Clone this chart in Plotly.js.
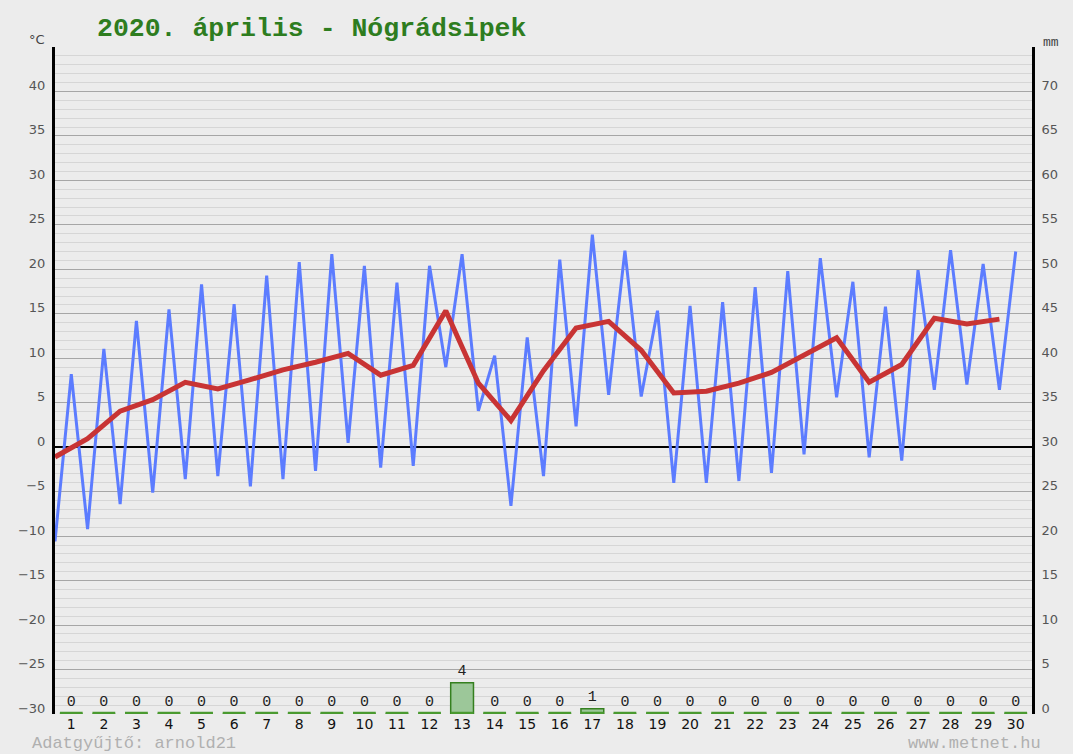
<!DOCTYPE html>
<html>
<head>
<meta charset="utf-8">
<script src="https://cdn.plot.ly/plotly-3.0.1.min.js"></script>
<style>
  html, body { margin: 0; padding: 0; background: #ececec; }
  #chart { width: 1073px; height: 754px; }
</style>
</head>
<body>
<div id="chart"></div>
<script>
// ---- data (2020. április, Nógrádsipek) ----
var days = [1,2,3,4,5,6,7,8,9,10,11,12,13,14,15,16,17,18,19,20,21,22,23,24,25,26,27,28,29,30];
// daily minimum (°C), plotted at the start of each day
var tMin = [-10.6, -9.2, -6.4, -5.1, -3.6, -3.25, -4.4, -3.6, -2.65, 0.5,
            -2.3, -2.1, 9.0, 4.1, -6.6, -3.25, 2.35, 5.9, 5.7, -4.0,
            -4.0, -3.8, -2.9, -0.8, 5.6, -1.15, -1.5, 6.45, 7.05, 6.45];
// daily maximum (°C), plotted at the middle of each day
var tMax = [8.2, 11.05, 14.2, 15.5, 18.3, 16.1, 19.3, 20.8, 21.7, 20.4,
            18.5, 20.4, 21.7, 10.3, 12.35, 21.1, 23.9, 22.1, 15.35, 15.9,
            16.3, 18.0, 19.8, 21.25, 18.6, 15.8, 19.9, 22.15, 20.6, 22.0];
// daily mean (°C)
var tMean = [-1.1, 0.95, 4.05, 5.35, 7.3, 6.55, 7.6, 8.7, 9.55, 10.55,
             8.1, 9.2, 15.35, 7.2, 3.0, 8.6, 13.4, 14.15, 10.9, 6.1,
             6.3, 7.2, 8.4, 10.3, 12.3, 7.3, 9.3, 14.5, 13.85, 14.4];
// daily precipitation (mm)
var precip = [0,0,0,0,0,0,0,0,0,0,0,0,3.5,0,0,0,0.6,0,0,0,0,0,0,0,0,0,0,0,0,0];

var tempTicks = [-30,-25,-20,-15,-10,-5,0,5,10,15,20,25,30,35,40,45];
var mmTicks = [0,5,10,15,20,25,30,35,40,45,50,55,60,65,70,75];

var titleText = '2020. április - Nógrádsipek';
var leftUnit = '°C';
var rightUnit = 'mm';
var footerLeft = 'Adatgyűjtő: arnold21';
var footerRight = 'www.metnet.hu';

// ---- build traces ----
var blueX = [], blueY = [];
days.forEach(function (d, i) {
  blueX.push(d - 0.5); blueY.push(tMin[i]);
  blueX.push(d);       blueY.push(tMax[i]);
});
var meanX = days.map(function (d) { return d - 0.5; });

var segX = [], segY = [];
days.forEach(function (d) {
  segX.push(d - 0.35, d + 0.35, null);
  segY.push(0, 0, null);
});

function fmt(v) { return v < 0 ? '−' + Math.abs(v) : String(v); }
var tempTickText = tempTicks.map(function (v, i) { return i === tempTicks.length - 1 ? '' : fmt(v); });
var mmTickText = mmTicks.map(function (v, i) { return i === mmTicks.length - 1 ? '' : String(v); });

var sansFont = 'DejaVu Sans, Verdana, sans-serif';
var monoFont = 'Liberation Mono, Courier New, monospace';

var data = [
  {
    type: 'scatter', mode: 'lines', x: blueX, y: blueY, yaxis: 'y',
    line: { color: '#5c7cff', width: 3 }, hoverinfo: 'skip'
  },
  {
    type: 'scatter', mode: 'lines', x: meanX, y: tMean, yaxis: 'y',
    line: { color: '#c83434', width: 5 }, hoverinfo: 'skip'
  },
  {
    type: 'scatter', mode: 'lines', x: segX, y: segY, yaxis: 'y2',
    line: { color: '#4a9a30', width: 4.5 }, hoverinfo: 'skip', connectgaps: false
  },
  {
    type: 'bar', x: days, y: precip, yaxis: 'y2', width: 0.7,
    marker: { color: '#9cc799', line: { color: '#35801f', width: 1.5 } },
    text: precip.map(function (v) { return String(Math.round(v)); }),
    textposition: 'outside', cliponaxis: false,
    textfont: { family: monoFont, size: 15, color: '#222' },
    hoverinfo: 'skip'
  }
];

var plotL = 55, plotR = 1032, plotT = 47, plotB = 714;
function px2paperX(px) { return (px - plotL) / (plotR - plotL); }
function px2paperY(py) { return (plotB - py) / (plotB - plotT); }

var layout = {
  width: 1073, height: 754,
  margin: { l: plotL, r: 1073 - plotR, t: plotT, b: 754 - plotB, pad: 0 },
  paper_bgcolor: '#ececec', plot_bgcolor: '#ececec',
  showlegend: false,
  title: {
    text: titleText,
    font: { family: monoFont, size: 26.5, color: '#2e7d1f', weight: 'bold' },
    xref: 'container', yref: 'container',
    x: 97 / 1073, xanchor: 'left',
    y: 1 - 27 / 754, yanchor: 'middle'
  },
  xaxis: {
    range: [0.5, 30.5], tickmode: 'array', tickvals: days,
    ticktext: days.map(String),
    showgrid: false, zeroline: false, showline: false, ticks: '',
    tickfont: { family: sansFont, size: 14, color: '#111' }
  },
  yaxis: {
    range: [-30, 45], tickmode: 'array', tickvals: tempTicks, ticktext: tempTickText,
    showgrid: true, gridcolor: '#a6a6a6', gridwidth: 1,
    minor: { tickmode: 'linear', tick0: 0, dtick: 1, showgrid: true, gridcolor: '#d6d6d6', gridwidth: 1, ticks: '' },
    zeroline: true, zerolinecolor: '#000', zerolinewidth: 1.5,
    showline: true, linecolor: '#000', linewidth: 3, ticks: '',
    ticklabelstandoff: 4, ticklabelshift: -6,
    tickfont: { family: sansFont, size: 13, color: '#555' }
  },
  yaxis2: {
    range: [0, 75], overlaying: 'y', side: 'right',
    tickmode: 'array', tickvals: mmTicks, ticktext: mmTickText,
    showgrid: false, zeroline: false,
    showline: true, linecolor: '#000', linewidth: 3, ticks: '',
    ticklabelstandoff: 4, ticklabelshift: -6,
    tickfont: { family: sansFont, size: 13, color: '#555' }
  },
  annotations: [
    { text: leftUnit, xref: 'paper', yref: 'paper', x: px2paperX(37), y: px2paperY(40), xanchor: 'center', yanchor: 'middle',
      showarrow: false, font: { family: sansFont, size: 13, color: '#444' } },
    { text: rightUnit, xref: 'paper', yref: 'paper', x: px2paperX(1051), y: px2paperY(42), xanchor: 'center', yanchor: 'middle',
      showarrow: false, font: { family: monoFont, size: 13, color: '#444' } },
    { text: footerLeft, xref: 'paper', yref: 'paper', x: px2paperX(30), y: px2paperY(743), xanchor: 'left', yanchor: 'middle',
      showarrow: false, font: { family: monoFont, size: 17, color: '#b0b0b0' } },
    { text: footerRight, xref: 'paper', yref: 'paper', x: px2paperX(1043), y: px2paperY(743), xanchor: 'right', yanchor: 'middle',
      showarrow: false, font: { family: monoFont, size: 17, color: '#b0b0b0' } }
  ]
};

Plotly.newPlot('chart', data, layout, { staticPlot: true, displayModeBar: false });
</script>
</body>
</html>
